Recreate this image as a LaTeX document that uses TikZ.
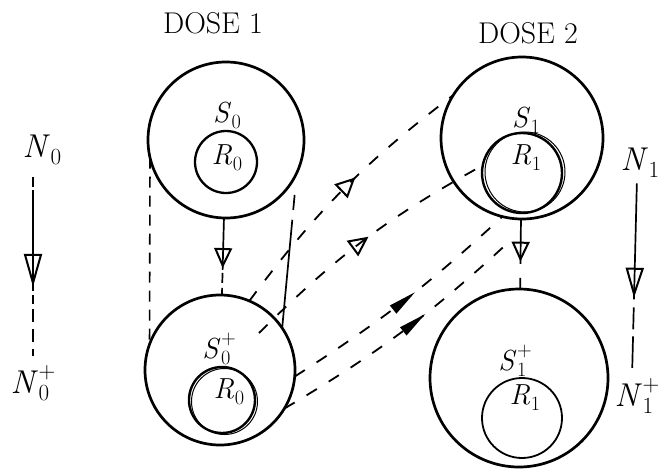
\RequirePackage{fix-cm}
\documentclass[tikz,border=0pt]{standalone}
\usepackage{fontspec}
\usetikzlibrary{arrows.meta,decorations.markings}
\newcommand\lsub[2]{\textit{#1}\kern0.02em\raisebox{-0.22em}{\scalebox{0.7}{#2}}}
\newcommand\lsubsup[3]{\textit{#1}\kern0.02em\rlap{\raisebox{-0.22em}{\scalebox{0.7}{#2}}}\raisebox{0.45em}{\scalebox{0.7}{#3}}}
\tikzset{
  ring/.style={circle, draw, line width=2.7pt, inner sep=0pt, outer sep=0pt},
  lab/.style={font=\fontsize{29}{34}\selectfont, inner sep=0pt, anchor=base},
  nlab/.style={font=\fontsize{33}{38}\selectfont, inner sep=0pt, anchor=base},
  ttl/.style={font=\fontsize{30}{34}\selectfont, inner sep=0pt, anchor=base},
  flow/.style={line width=1.8pt, dash pattern=on 12pt off 14pt},
  thinflow/.style={line width=1.6pt, dash pattern=on 11pt off 8pt},
  openhead/.style={postaction={decorate}, decoration={markings, mark=at position #1 with {\arrow{Triangle[open, length=20pt, width=19pt, line width=2pt]}}}},
  fullhead/.style={postaction={decorate}, decoration={markings, mark=at position #1 with {\arrow{Triangle[length=28pt, width=10pt]}}}},
  vhead/.style 2 args={postaction={decorate}, decoration={markings, mark=at position #1 with {\arrow{Triangle[open, length=#2, width=18pt, line width=2pt]}}}},
}
\begin{document}
\begin{tikzpicture}[x=1pt, y=-1pt]
\useasboundingbox (0,0) rectangle (658,469);

% titles
\node[ttl] (d1) at (213,33) {DOSE 1};
\node[ttl] (d2) at (528,43) {DOSE 2};

% circles
\node[ring, minimum size=156pt] (S0) at (226,140) {};
\node[ring, minimum size=62pt, line width=2.3pt] (R0a) at (226,162) {};
\node[ring, minimum size=150pt] (S0p) at (220,370) {};
\node[ring, minimum size=66pt, line width=2.4pt] (R0b) at (222,400) {};
\node[ring, minimum size=66pt, line width=1pt] (R0c) at (224.5,401.5) {};
\node[ring, minimum size=162pt] (S1) at (522,138) {};
\node[ring, minimum size=80pt, line width=2.4pt] (R1a) at (522,173) {};
\node[ring, minimum size=80pt, line width=1pt] (R1d) at (525,172) {};
\node[ring, minimum size=178pt] (S1p) at (519,378) {};
\node[ring, minimum size=80pt, line width=1.8pt] (R1b) at (522,418) {};

% labels
\node[lab] (lS0) at (227,122) {\lsub{S}{0}};
\node[lab] (lR0a) at (227,164) {\lsub{R}{0}};
\node[lab] (lS0p) at (219,358) {\lsubsup{S}{0}{+}};
\node[lab] (lR0b) at (229,398) {\lsub{R}{0}};
\node[lab] (lS1) at (526,127) {\lsub{S}{1}};
\node[lab] (lR1a) at (526,164) {\lsub{R}{1}};
\node[lab] (lS1p) at (515,370) {\lsubsup{S}{1}{+}};
\node[lab] (lR1b) at (525,404) {\lsub{R}{1}};
\node[nlab] (N0) at (42,157) {\lsub{N}{0}};
\node[nlab] (N0p) at (33,393) {\lsubsup{N}{0}{+}};
\node[nlab] (N1) at (640,170) {\lsub{N}{1}};
\node[nlab] (N1p) at (637,406) {\lsubsup{N}{1}{+}};

\coordinate (n0x) at (33,0);
\coordinate (n1xa) at (637,0);
\coordinate (n1xb) at (632,0);
\coordinate (b0) at (259,333);
\coordinate (dend) at (511,240);

% vertical arrows
\draw[line width=1.7pt, dash pattern={on 10pt off 3pt on 101pt off 4pt on 9pt off 5pt on 13pt off 7pt on 13pt off 7pt on 10pt off 6pt on 10pt off 20pt}, vhead={0.61}{33pt}, shorten <=12pt, shorten >=9pt]
  (N0.south -| n0x) -- (N0p.north -| n0x);
\draw[line width=1.7pt, dash pattern={on 116pt off 8pt on 22pt off 7pt on 40pt}, vhead={0.6}{30pt}, shorten <=6pt, shorten >=10pt]
  (N1.south -| n1xa) -- (N1p.north -| n1xb);
\draw[line width=1.7pt, dash pattern={on 52pt off 3pt on 10pt off 5pt on 12pt}, vhead={0.65}{20pt}]
  (S0) -- (S0p);
\draw[line width=1.7pt, dash pattern={on 45pt off 14pt on 10pt off 3pt on 8pt}, vhead={0.61}{20pt}]
  (S1) -- (S1p);

% side lines of dose 1
\draw[thinflow] (S0.193) -- (S0p.160);
\draw[line width=1.7pt, dash pattern={on 0pt off 22pt on 15pt off 10pt on 300pt}] (S0.-25) -- (S0p.34);

% transfer lines
\draw[flow, openhead=0.56] (S0p.67) to[bend left=8] (S1.148);
\draw[flow, openhead=0.52] (b0) to[bend left=8] (R1a.169);
\draw[flow, fullhead=0.56] (S0p.-5) to[bend right=5] (S1.-104);
\draw[flow, fullhead=0.6] (S0p.-31) to[bend right=6] (dend);
\end{tikzpicture}
\end{document}
